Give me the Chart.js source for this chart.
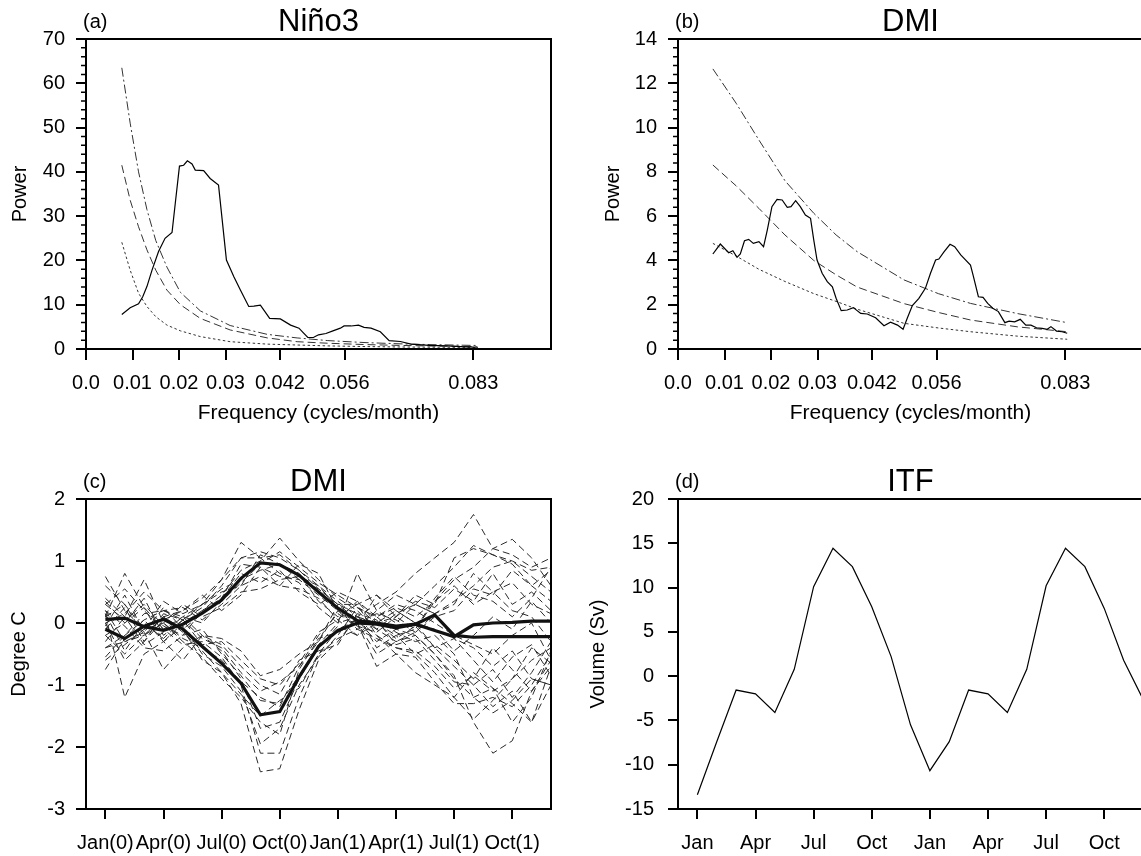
<!DOCTYPE html>
<html>
<head>
<meta charset="utf-8">
<title>Spectra and composites</title>
<script src="https://cdn.jsdelivr.net/npm/chart.js@4.4.0/dist/chart.umd.min.js"></script>
<style>
  html, body { margin: 0; padding: 0; background: #fff; overflow: hidden; }
  #page { position: relative; width: 1141px; height: 856px; overflow: hidden; background: #fff; }
  canvas { position: absolute; }
</style>
</head>
<body>
<div id="page">
  <canvas id="panelA" width="570" height="430" style="left:0;top:0"></canvas>
  <canvas id="panelB" width="580" height="430" style="left:570px;top:0"></canvas>
  <canvas id="panelC" width="570" height="426" style="left:0;top:430px"></canvas>
  <canvas id="panelD" width="580" height="426" style="left:570px;top:430px"></canvas>
</div>
<script>
// ---- (a) Nino3 power spectrum ----
const ninoFreq = [0.0077, 0.0095, 0.0113, 0.0122, 0.0131, 0.0142, 0.0156, 0.017, 0.0185, 0.0192,
  0.0201, 0.021, 0.0218, 0.0228, 0.0235, 0.0253, 0.0267, 0.0285, 0.0302, 0.0318,
  0.0332, 0.035, 0.0361, 0.0375, 0.0395, 0.0418, 0.044, 0.0458, 0.0466, 0.0477,
  0.0489, 0.05, 0.0516, 0.0531, 0.0547, 0.0555, 0.057, 0.0586, 0.0598, 0.0613,
  0.0633, 0.0652, 0.0676, 0.0699, 0.0738, 0.0777, 0.0816, 0.0843];
const ninoPower = [7.8, 9.3, 10.2, 11.8, 14.1, 17.8, 22.0, 25.0, 26.3, 32.9,
  41.3, 41.5, 42.5, 41.8, 40.4, 40.3, 38.5, 37.0, 20.1, 16.3,
  13.3, 9.6, 9.7, 9.9, 6.9, 6.8, 5.4, 4.7, 3.8, 2.6,
  2.6, 3.2, 3.5, 4.1, 4.7, 5.2, 5.2, 5.4, 4.9, 4.7,
  3.9, 1.9, 1.7, 1.1, 0.8, 0.7, 0.5, 0.4];
const ninoRedFreq = [0.0077, 0.0095, 0.0113, 0.0131, 0.015, 0.0174, 0.0203, 0.0246, 0.031, 0.039, 0.0454, 0.052, 0.06, 0.068, 0.076, 0.084];
const ninoRedMean = [24.1, 17.8, 12.6, 9.6, 7.3, 5.4, 4.1, 2.8, 1.65, 1.1, 0.9, 0.7, 0.55, 0.45, 0.4, 0.35];
const ninoRed95 = [41.5, 33.6, 27.6, 22.4, 17.8, 13.3, 10.0, 6.9, 4.3, 2.5, 1.65, 1.3, 1.0, 0.8, 0.65, 0.55];
const ninoRed99 = [63.5, 51.0, 40.0, 31.5, 24.5, 18.5, 12.8, 8.6, 5.3, 3.3, 2.5, 1.9, 1.45, 1.15, 0.95, 0.8];

// ---- (b) DMI power spectrum ----
const dmiFreq = [0.0075, 0.0091, 0.0109, 0.0118, 0.0127, 0.0134, 0.0143, 0.0152, 0.0162, 0.0174,
  0.0184, 0.0192, 0.0202, 0.0213, 0.0224, 0.0235, 0.0243, 0.0253, 0.0263, 0.0274,
  0.0285, 0.0292, 0.0299, 0.031, 0.0321, 0.0332, 0.034, 0.0351, 0.0364, 0.0377,
  0.0393, 0.0407, 0.0425, 0.0443, 0.0457, 0.0472, 0.0484, 0.0493, 0.0504, 0.0518,
  0.0532, 0.0543, 0.0554, 0.0561, 0.0572, 0.0585, 0.0595, 0.0608, 0.0629, 0.0635,
  0.0646, 0.0656, 0.0666, 0.0677, 0.0689, 0.0703, 0.0712, 0.0724, 0.0736, 0.0748,
  0.0759, 0.0771, 0.0783, 0.0794, 0.0802, 0.0814, 0.0826, 0.0837];
const dmiPower = [4.29, 4.74, 4.35, 4.44, 4.14, 4.29, 4.89, 4.95, 4.77, 4.85,
  4.62, 5.37, 6.43, 6.76, 6.73, 6.40, 6.43, 6.70, 6.43, 6.05,
  5.90, 4.92, 4.02, 3.42, 3.04, 2.81, 2.29, 1.73, 1.76, 1.87,
  1.61, 1.58, 1.41, 1.05, 1.21, 1.08, 0.89, 1.39, 1.96, 2.29,
  2.74, 3.42, 4.02, 4.06, 4.39, 4.73, 4.62, 4.25, 3.79, 3.30,
  2.36, 2.33, 2.06, 1.84, 1.69, 1.19, 1.26, 1.23, 1.34, 1.08,
  1.08, 0.96, 0.93, 0.89, 1.01, 0.81, 0.78, 0.71];
const dmiRedFreq = [0.0075, 0.0125, 0.0174, 0.023, 0.0292, 0.034, 0.0385, 0.0486, 0.056, 0.0629, 0.073, 0.0837];
const dmiRedMean = [4.77, 4.2, 3.6, 3.05, 2.5, 2.15, 1.8, 1.16, 0.95, 0.78, 0.58, 0.44];
const dmiRed95 = [8.31, 7.37, 6.35, 5.15, 4.0, 3.35, 2.8, 2.05, 1.65, 1.31, 1.0, 0.78];
const dmiRed99 = [12.65, 11.1, 9.44, 7.6, 6.13, 5.15, 4.4, 3.12, 2.5, 2.06, 1.6, 1.19];

const freqTicks = [0, 0.01, 0.02, 0.03, 0.0417, 0.0556, 0.0833];
const freqTickLabels = ['0.0', '0.01', '0.02', '0.03', '0.042', '0.056', '0.083'];

// ---- (c) DMI composites, Jan(0) .. Dec(1) ----
const months = [0, 1, 2, 3, 4, 5, 6, 7, 8, 9, 10, 11, 12, 13, 14, 15, 16, 17, 18, 19, 20, 21, 22, 23];
const monthTicks = [0, 3, 6, 9, 12, 15, 18, 21];
const monthTickLabels = ['Jan(0)', 'Apr(0)', 'Jul(0)', 'Oct(0)', 'Jan(1)', 'Apr(1)', 'Jul(1)', 'Oct(1)'];

const posComposite = [0.06, 0.08, -0.06, -0.12, -0.02, 0.16, 0.37, 0.72, 0.97, 0.94, 0.77, 0.50, 0.24, 0.04, 0.00, -0.05, -0.02, -0.12, -0.22, -0.03, 0.00, 0.01, 0.03, 0.03];
const negComposite = [-0.10, -0.25, -0.05, 0.06, -0.10, -0.38, -0.65, -0.97, -1.48, -1.43, -0.87, -0.38, -0.12, 0.00, -0.02, -0.08, -0.02, 0.13, -0.20, -0.23, -0.22, -0.22, -0.22, -0.22];

const posEvents = [
  [0.75, 0.2, -0.1, 0.1, 0.2, 0.4, 0.7, 1.05, 1.15, 1.05, 0.85, 0.55, 0.3, 0.05, -0.2, -0.5, -0.8, -1.0, -1.2, -1.55, -1.25, -0.9, -0.6, -0.4],
  [0.3, 0.55, 0.2, -0.1, 0.1, 0.3, 0.7, 1.3, 1.05, 1.1, 0.85, 0.6, 0.35, 0.1, 0.3, 0.5, 0.8, 1.05, 1.3, 1.75, 1.2, 1.1, 0.9, 1.05],
  [-0.2, 0.0, 0.25, -0.3, 0.0, 0.2, 0.45, 0.85, 1.0, 1.37, 1.0, 0.7, 0.4, 0.2, -0.1, -0.3, -0.2, -0.5, -0.9, -1.2, -1.05, -1.3, -1.6, -1.0],
  [0.2, -0.3, -0.2, 0.1, -0.1, 0.15, 0.4, 0.95, 0.9, 0.75, 0.7, 0.45, 0.2, -0.1, 0.2, 0.45, 0.3, 0.6, 0.9, 1.25, 1.1, 1.0, 0.85, 0.9],
  [0.0, 0.15, 0.5, 0.2, 0.05, 0.3, 0.55, 0.7, 0.85, 0.95, 0.8, 0.35, 0.1, 0.3, -0.2, -0.4, -0.45, -0.7, -1.05, -0.85, -1.1, -0.9, -0.4, -0.65],
  [-0.4, -0.2, 0.05, 0.2, 0.25, 0.05, 0.3, 0.6, 0.75, 0.6, 0.55, 0.4, 0.05, -0.2, 0.1, 0.25, 0.1, 0.35, 0.7, 0.9, 1.2, 1.35, 1.05, 0.6],
  [0.4, 0.1, -0.35, -0.15, 0.1, 0.0, 0.35, 0.65, 0.95, 1.15, 0.9, 0.65, 0.45, 0.25, 0.0, 0.1, 0.35, 0.25, 0.55, 0.35, 0.8, 0.3, 0.5, 0.2],
  [0.1, 0.3, -0.1, 0.35, 0.15, 0.3, 0.5, 0.6, 1.1, 0.95, 0.7, 0.55, 0.3, 0.15, -0.4, -0.2, -0.5, -0.35, -0.6, -0.9, -0.4, -0.75, -1.1, -0.7],
  [-0.6, -0.35, -0.1, 0.0, 0.3, 0.1, 0.25, 0.5, 0.55, 0.7, 0.75, 0.6, 0.25, 0.0, 0.15, 0.05, -0.15, 0.1, 0.2, 0.55, 0.45, 0.85, 0.6, 0.35],
  [0.3, 0.05, 0.3, -0.05, -0.2, 0.2, 0.4, 0.8, 0.65, 0.85, 0.5, 0.3, 0.5, 0.35, 0.0, -0.25, -0.05, -0.4, -0.25, -0.6, -0.95, -0.55, -0.35, -0.85],
  [-0.1, 0.25, -0.3, 0.05, 0.2, 0.45, 0.2, 0.45, 0.9, 0.6, 0.95, 0.8, 0.2, -0.05, 0.45, 0.2, 0.0, -0.1, -0.45, -0.2, 0.1, -0.1, 0.35, 0.0],
  [0.15, -0.45, 0.0, -0.25, 0.05, 0.25, 0.6, 1.05, 1.05, 0.8, 0.65, 0.25, 0.0, 0.1, -0.1, 0.15, 0.3, 0.15, -0.25, -0.4, -0.7, -0.45, -0.9, -1.0]
];
const negEvents = [
  [-0.2, -0.5, -0.2, 0.1, -0.15, -0.45, -0.8, -1.3, -2.4, -2.35, -1.4, -0.6, -0.3, 0.1, 0.0, -0.2, -0.1, 0.35, 0.6, 0.3, 0.5, 0.2, 0.1, -0.3],
  [0.1, 0.8, 0.25, -0.1, -0.35, -0.3, -0.55, -1.0, -2.1, -2.1, -1.2, -0.5, -0.1, 0.05, -0.3, -0.1, -0.2, -0.5, -0.85, -1.6, -2.1, -1.9, -1.1, -0.6],
  [0.15, -1.2, -0.5, -0.3, -0.05, -0.5, -0.7, -1.1, -1.95, -1.7, -1.0, -0.55, -0.2, 0.25, 0.1, -0.15, -0.3, -0.2, -0.5, -1.2, -1.45, -1.25, -0.9, -1.0],
  [-0.55, -0.2, 0.15, 0.2, 0.1, -0.2, -0.45, -0.9, -1.7, -1.6, -0.9, -0.4, -0.05, -0.2, 0.0, 0.2, 0.0, -0.4, -0.7, -1.0, -1.35, -1.1, -1.6, -0.7],
  [-0.3, 0.1, 0.7, 0.0, -0.3, -0.55, -0.9, -1.2, -1.6, -1.8, -0.75, -0.25, -0.15, 0.0, -0.7, -0.5, -0.55, -0.95, -1.3, -1.3, -1.2, -1.35, -1.0, -0.5],
  [0.2, -0.05, -0.4, -0.45, -0.2, -0.1, -0.5, -0.85, -1.25, -1.3, -0.85, -0.35, 0.0, 0.8, 0.2, 0.0, 0.3, 0.15, 0.35, 0.6, 0.9, 1.0, 0.75, 0.5],
  [0.6, 0.3, -0.2, 0.0, -0.25, -0.4, -0.6, -0.95, -1.2, -1.35, -0.7, -0.2, 0.15, -0.05, -0.15, 0.1, 0.45, 0.3, 1.05, 1.2, 1.1, 0.95, 0.6, 0.85],
  [-0.75, -0.25, 0.05, -0.3, -0.6, -0.2, -0.35, -0.7, -1.0, -1.15, -0.6, -0.45, -0.35, 0.15, 0.05, -0.35, -0.25, -0.6, -0.95, -1.0, -0.75, -1.2, -0.8, -0.3],
  [0.35, 0.0, 0.4, -0.2, 0.05, -0.35, -0.3, -0.6, -0.9, -1.0, -0.65, -0.15, 0.05, 0.35, 0.1, 0.3, 0.2, 0.0, -0.2, -0.35, -0.5, -0.2, 0.0, -0.6],
  [-0.05, 0.45, -0.15, -0.75, -0.4, -0.2, -0.25, -0.45, -0.85, -0.75, -0.5, -0.3, 0.3, 0.3, 0.45, 0.1, -0.1, 0.4, 0.75, 0.45, 0.35, 0.1, 0.4, 0.9],
  [-0.4, -0.3, -0.15, 0.25, -0.1, -0.6, -0.8, -1.15, -1.5, -1.25, -1.05, -0.5, -0.25, -0.1, -0.25, -0.4, -0.5, -0.8, -1.2, -0.8, -1.05, -1.6, -1.2, -0.45],
  [0.0, -0.6, -0.3, 0.15, 0.05, -0.25, -0.4, -0.8, -1.1, -0.95, -0.7, -0.3, 0.2, 0.0, -0.5, -0.3, -0.15, 0.15, 0.3, 0.8, 0.5, 0.65, 0.3, 0.15]
];

// ---- (d) ITF transport, two seasonal cycles ----
const itfTickLabels = ['Jan', 'Apr', 'Jul', 'Oct', 'Jan', 'Apr', 'Jul', 'Oct'];
const itfVolume = [-13.4, -7.4, -1.57, -2.0, -4.1, 0.77, 10.1, 14.43, 12.36, 7.84, 2.2, -5.5,
  -10.67, -7.4, -1.57, -2.0, -4.1, 0.77, 10.2, 14.43, 12.36, 7.65, 1.8, -2.6];

const FONT = '"Liberation Sans", Arial, Helvetica, sans-serif';
Chart.defaults.font.family = FONT;
Chart.defaults.color = '#000';

// frame, minor ticks, panel tag and title
const panelDeco = {
  id: 'panelDeco',
  afterDraw(chart, args, opts) {
    if (!opts || !opts.title) return;
    const ctx = chart.ctx;
    const a = chart.chartArea;
    ctx.save();
    ctx.strokeStyle = '#000';
    ctx.lineWidth = 2;
    ctx.strokeRect(a.left, a.top, a.right - a.left, a.bottom - a.top);

    if (opts.minorStep) {
      const y = chart.scales.y;
      const n = Math.round((y.max - y.min) / opts.minorStep);
      ctx.lineWidth = 1.5;
      ctx.beginPath();
      for (let i = 0; i <= n; i++) {
        if (i % opts.minorEvery === 0) continue;
        const py = y.getPixelForValue(y.min + i * opts.minorStep);
        ctx.moveTo(a.left, py);
        ctx.lineTo(a.left - 5, py);
      }
      ctx.stroke();
    }

    ctx.fillStyle = '#000';
    ctx.textBaseline = 'alphabetic';
    ctx.textAlign = 'left';
    ctx.font = '20px ' + FONT;
    ctx.fillText(opts.tag, a.left - 3, a.top - 11);
    ctx.textAlign = 'center';
    ctx.font = '31px ' + FONT;
    ctx.fillText(opts.title, (a.left + a.right) / 2, a.top - 8.5);
    ctx.restore();
  }
};
Chart.register(panelDeco);

function pairs(xs, ys) {
  return xs.map((x, i) => ({ x: x, y: ys[i] }));
}

function lineSet(xs, ys, width, dash, color) {
  return {
    data: pairs(xs, ys),
    borderColor: color || '#000',
    borderWidth: width,
    borderDash: dash || [],
    pointRadius: 0,
    tension: 0,
    fill: false
  };
}

function axisStyle(tickLen) {
  return {
    grid: { drawOnChartArea: false, drawTicks: true, tickLength: tickLen, color: '#000', lineWidth: 2 },
    border: { display: true, color: '#000', width: 2 }
  };
}

function makePanel(id, p) {
  const ctx = document.getElementById(id).getContext('2d');
  return new Chart(ctx, {
    type: 'line',
    data: { datasets: p.datasets },
    options: {
      responsive: false,
      animation: false,
      events: [],
      layout: { padding: p.padding, autoPadding: false },
      plugins: {
        legend: { display: false },
        tooltip: { enabled: false },
        title: { display: false },
        panelDeco: p.deco
      },
      scales: {
        x: Object.assign({
          type: 'linear',
          min: p.xMin,
          max: p.xMax,
          afterBuildTicks: s => { s.ticks = p.xTicks.map(v => ({ value: v })); },
          afterFit: s => { s.height = p.xHeight; },
          ticks: {
            autoSkip: false, maxRotation: 0, minRotation: 0,
            padding: p.xPad, font: { size: 20 },
            callback: (v, i) => p.xLabels[i]
          },
          title: p.xTitle ? {
            display: true, text: p.xTitle, font: { size: 21 },
            padding: { top: 0, bottom: 4.4 }
          } : { display: false }
        }, axisStyle(p.xTickLen)),
        y: Object.assign({
          type: 'linear',
          min: p.yMin,
          max: p.yMax,
          afterFit: s => { s.width = p.yWidth; },
          ticks: { stepSize: p.yStep, padding: p.yPad, font: { size: 20 } },
          title: {
            display: true, text: p.yTitle, font: { size: 20 },
            padding: { top: p.yTitlePad, bottom: 0 }
          }
        }, axisStyle(10))
      }
    }
  });
}

// (a)
makePanel('panelA', {
  padding: { top: 39, right: 19, left: 0, bottom: 0 },
  deco: { tag: '(a)', title: 'Niño3', minorStep: 2, minorEvery: 5 },
  datasets: [
    lineSet(ninoFreq, ninoPower, 1.2),
    lineSet(ninoRedFreq, ninoRed99, 1, [9, 3, 2, 3], '#333'),
    lineSet(ninoRedFreq, ninoRed95, 1, [8, 4], '#333'),
    lineSet(ninoRedFreq, ninoRedMean, 1, [2.5, 2.5], '#333')
  ],
  xMin: 0, xMax: 0.1, xTicks: freqTicks, xLabels: freqTickLabels,
  xHeight: 81, xPad: 11.5, xTickLen: 11, xTitle: 'Frequency (cycles/month)',
  yMin: 0, yMax: 70, yStep: 10, yWidth: 86, yPad: 11, yTitle: 'Power', yTitlePad: 8.7
});

// (b)
makePanel('panelB', {
  padding: { top: 39, right: 7, left: 0, bottom: 0 },
  deco: { tag: '(b)', title: 'DMI', minorStep: 0.4, minorEvery: 5 },
  datasets: [
    lineSet(dmiFreq, dmiPower, 1.2),
    lineSet(dmiRedFreq, dmiRed99, 1, [9, 3, 2, 3], '#333'),
    lineSet(dmiRedFreq, dmiRed95, 1, [8, 4], '#333'),
    lineSet(dmiRedFreq, dmiRedMean, 1, [2.5, 2.5], '#333')
  ],
  xMin: 0, xMax: 0.1, xTicks: freqTicks, xLabels: freqTickLabels,
  xHeight: 81, xPad: 11.5, xTickLen: 11, xTitle: 'Frequency (cycles/month)',
  yMin: 0, yMax: 14, yStep: 2, yWidth: 108, yPad: 11, yTitle: 'Power', yTitlePad: 31.5
});

// (c) thick composites first so they are drawn on top
const compositeSets = [
  lineSet(months, posComposite, 3.2, [], '#111'),
  lineSet(months, negComposite, 3.2, [], '#111')
];
const eventSets = posEvents.concat(negEvents).map(ev => lineSet(months, ev, 1, [7, 4], '#2a2a2a'));

makePanel('panelC', {
  padding: { top: 69, right: 19, left: 0, bottom: 0 },
  deco: { tag: '(c)', title: 'DMI' },
  datasets: compositeSets.concat(eventSets),
  xMin: -1, xMax: 23, xTicks: monthTicks, xLabels: monthTickLabels,
  xHeight: 47, xPad: 12, xTickLen: 10, xTitle: null,
  yMin: -3, yMax: 2, yStep: 1, yWidth: 86, yPad: 11, yTitle: 'Degree C', yTitlePad: 7
});

// (d)
makePanel('panelD', {
  padding: { top: 69, right: 7, left: 0, bottom: 0 },
  deco: { tag: '(d)', title: 'ITF' },
  datasets: [lineSet(months, itfVolume, 1.2)],
  xMin: -1, xMax: 23, xTicks: monthTicks, xLabels: itfTickLabels,
  xHeight: 47, xPad: 12, xTickLen: 10, xTitle: null,
  yMin: -15, yMax: 20, yStep: 5, yWidth: 108, yPad: 14, yTitle: 'Volume (Sv)', yTitlePad: 16
});
</script>
</body>
</html>
